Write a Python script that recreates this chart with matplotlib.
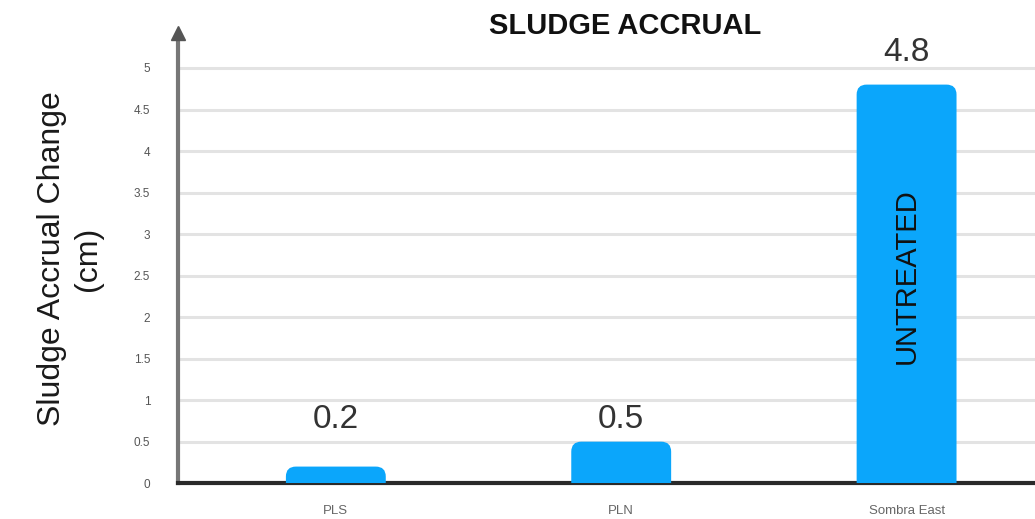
import numpy as np
import matplotlib
matplotlib.use("Agg")
import matplotlib.pyplot as plt
from matplotlib.patches import FancyBboxPatch

# data
sites = ["PLS", "PLN", "Sombra East"]
accrual = [0.2, 0.5, 4.8]
bar_notes = ["", "", "UNTREATED"]
y_ticks = [0, 0.5, 1, 1.5, 2, 2.5, 3, 3.5, 4, 4.5, 5]
y_tick_labels = ["0", "0.5", "1", "1.5", "2", "2.5", "3", "3.5", "4", "4.5", "5"]

plt.rcParams['font.family'] = ['Liberation Sans', 'DejaVu Sans']

fig = plt.figure(figsize=(10.35, 5.19), dpi=100)
ax = fig.add_axes([0.172, 0.069, 0.828, 0.864])

x = np.arange(len(sites))
bar_w = 0.35
blue = '#0ba6fb'

ax.set_xlim(-0.553, 2.45)
ax.set_ylim(0, 5.4)

# plain bars first (invisible), then rounded tops built from their geometry
bars = ax.bar(x, accrual, width=bar_w, color='none', zorder=3)
aspect = (1 / 83.0) / (1 / 284.0)
for b in bars:
    r = 0.035
    patch = FancyBboxPatch((b.get_x(), -0.3), b.get_width(), b.get_height() + 0.3,
                           boxstyle="round,pad=0,rounding_size={}".format(r),
                           mutation_aspect=aspect, facecolor=blue, edgecolor='none',
                           zorder=3)
    ax.add_patch(patch)

# value labels (short bars get their label lifted to a common level)
for xi, v in zip(x, accrual):
    ax.text(xi, max(v, 0.5) * 1.03 + 0.06, "{:g}".format(v), ha='center', va='bottom',
            fontsize=24, color='#333333', zorder=4)

# note inside the tall bar
for xi, v, note in zip(x, accrual, bar_notes):
    if note:
        ax.text(xi, v * 0.52, note, rotation=90, ha='center', va='center',
                fontsize=21, color='#111111', zorder=4)

ax.set_yticks(y_ticks)
ax.set_yticklabels(y_tick_labels, fontsize=8.5, color='#555555')
ax.set_xticks(x)
ax.set_xticklabels(sites, fontsize=9.5, color='#666666')
ax.tick_params(axis='both', length=0)
ax.tick_params(axis='y', pad=20)
ax.tick_params(axis='x', pad=16)

ax.grid(axis='y', color='#e3e3e3', linewidth=2.2, zorder=0)
ax.set_axisbelow(True)

for s in ['top', 'right']:
    ax.spines[s].set_visible(False)
ax.spines['left'].set_color('#777777')
ax.spines['left'].set_linewidth(3)
ax.spines['bottom'].set_color('#2a2a2a')
ax.spines['bottom'].set_linewidth(3)

# arrow head on the y axis
ax.plot(0, 1.005, marker='^', markersize=10, color='#555555', transform=ax.transAxes,
        clip_on=False, zorder=5)

ax.set_ylabel("Sludge Accrual Change\n(cm)", fontsize=23, color='#1a1a1a',
              linespacing=1.25, labelpad=22)

fig.text(0.604, 0.95, "SLUDGE ACCRUAL", ha='center', va='center',
         fontsize=21, fontweight='bold', color='#111111')

fig.savefig("out.png", dpi=100)
